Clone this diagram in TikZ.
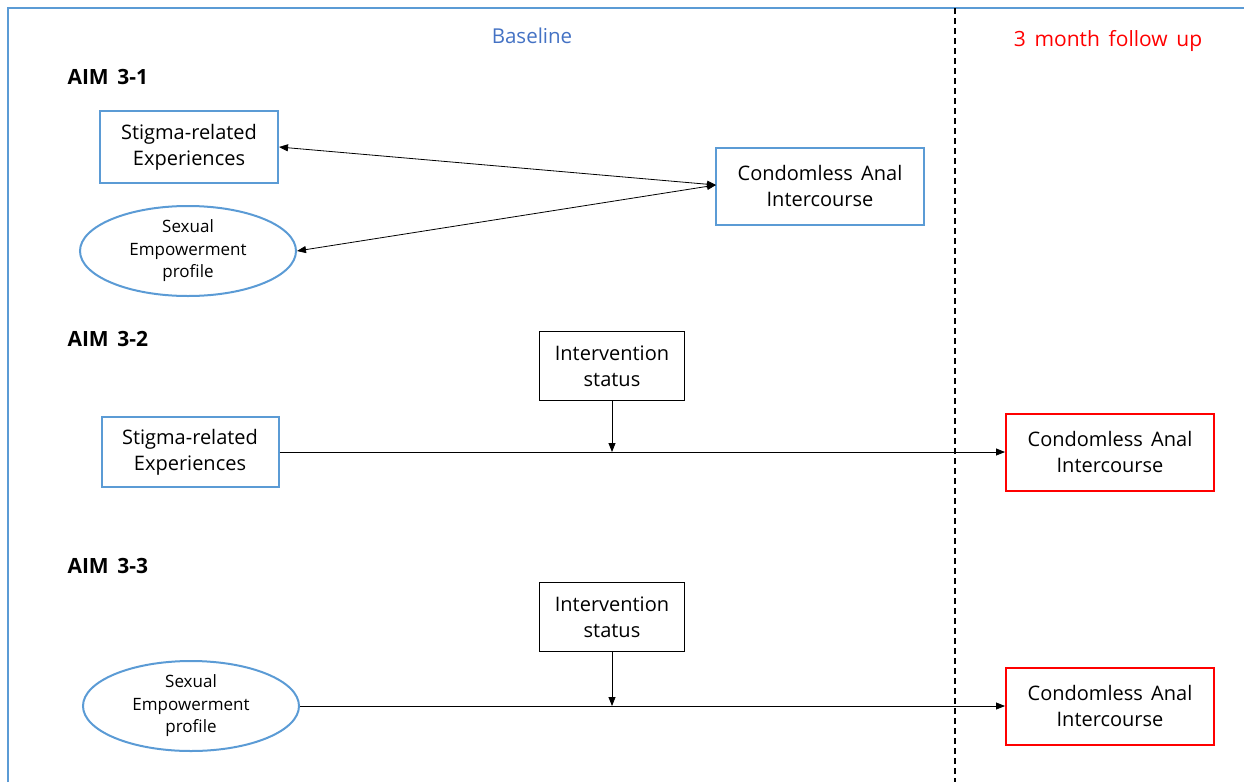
\documentclass[tikz,border=0pt]{standalone}
\usepackage{fontspec}
\setmainfont{Open Sans}[WordSpace=1.6]
\usetikzlibrary{shapes.geometric,arrows.meta}
\definecolor{frameblue}{HTML}{5B9BD5}
\definecolor{titleblue}{HTML}{4472C4}
\definecolor{outred}{HTML}{FF0000}
\tikzset{
  px/.style={x=1pt,y=-1pt},
  boxtext/.style={font=\fontsize{20}{26}\selectfont, align=center, inner sep=0pt},
  redbox/.style={draw=outred, line width=2pt},
  blackbox/.style={draw=black, line width=1.2pt},
  blueoval/.style={draw=frameblue, line width=2pt, ellipse, inner sep=0pt,
    font=\fontsize{17}{22.5}\selectfont, align=center},
  link/.style={line width=0.8pt, -{Triangle[length=9pt,width=7pt]}},
  biline/.style={line width=0.8pt, {Triangle[length=9pt,width=7pt]}-{Triangle[length=9pt,width=7pt]}},
  aim/.style={font=\fontsize{21}{25}\selectfont\bfseries, anchor=west}
}
\begin{document}
\begin{tikzpicture}[px]
\useasboundingbox (0,0) rectangle (1244,782);
% frame and time divider
\draw[frameblue, line width=2pt] (8,782) -- (8,8) -- (1244,8);
\draw[black, line width=1.2pt, dash pattern=on 6pt off 4pt] (955,8) -- (955,782);
\node[font=\fontsize{20.5}{24}\selectfont, text=titleblue] (base) at (532,36) {Baseline};
\node[font=\fontsize{21}{25}\selectfont, text=outred] (follow) at (1108,41) {3 month follow up};

% AIM 3-1
\node[aim] (aimA) at (64,77) {AIM 3-1};
\node[draw=frameblue, line width=2pt, minimum width=178pt, minimum height=72pt, boxtext] (stigA) at (189,147) {Stigma-related\\Experiences};
\node[blueoval, minimum width=216pt, minimum height=90pt] (sepA) at (188,251) {Sexual\\Empowerment\\profile};
\node[draw=frameblue, line width=2pt, minimum width=208pt, minimum height=77pt, boxtext] (caiA) at (820,186) {Condomless Anal\\Intercourse};
\coordinate (hub) at (716,185);
\draw[biline] (hub) -- (stigA.east);
\draw[biline] (hub) -- (sepA.east);

% AIM 3-2
\node[aim] (aimB) at (64,339) {AIM 3-2};
\node[blackbox, minimum width=145pt, minimum height=69pt, boxtext] (intB) at (612,366) {Intervention\\status};
\node[draw=frameblue, line width=2pt, minimum width=177pt, minimum height=70pt, boxtext] (stigB) at (190,452) {Stigma-related\\Experiences};
\node[redbox, minimum width=208pt, minimum height=77pt, boxtext] (caiB) at (1110,452) {Condomless Anal\\Intercourse};
\draw[link] (stigB.east) -- (caiB.west);
\coordinate (modB) at (612,452);
\draw[link] (intB.south) -- (modB);

% AIM 3-3
\node[aim] (aimC) at (64,566) {AIM 3-3};
\node[blackbox, minimum width=145pt, minimum height=69pt, boxtext] (intC) at (612,617) {Intervention\\status};
\node[blueoval, minimum width=216pt, minimum height=90pt] (sepC) at (191,706) {Sexual\\Empowerment\\profile};
\node[redbox, minimum width=208pt, minimum height=77pt, boxtext] (caiC) at (1110,706) {Condomless Anal\\Intercourse};
\draw[link] (sepC.east) -- (caiC.west);
\coordinate (modC) at (612,706);
\draw[link] (intC.south) -- (modC);
\end{tikzpicture}
\end{document}
